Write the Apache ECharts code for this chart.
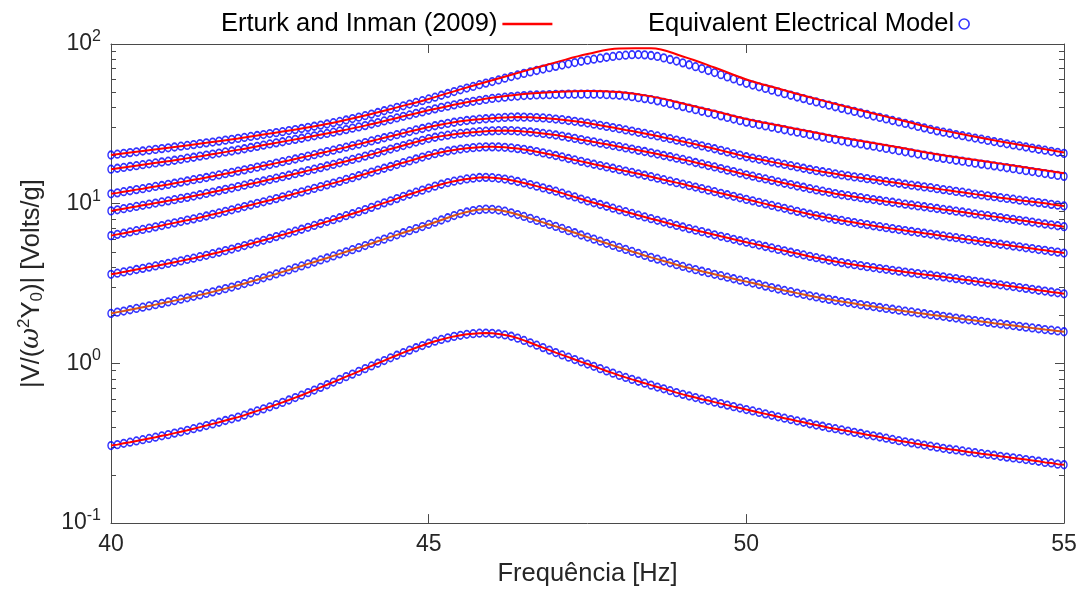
<!DOCTYPE html>
<html>
<head>
<meta charset="utf-8">
<script src="https://cdn.jsdelivr.net/npm/echarts@6/dist/echarts.min.js"></script>
<style>html,body{margin:0;padding:0;background:#fff;}#c{width:1083px;height:592px;}</style>
</head>
<body>
<div id="c"></div>
<script>
// Frequency grid of the markers [Hz]
const freq = [
40,40.1,40.2,40.3,40.4,40.5,40.6,40.7,40.8,40.9,
41,41.1,41.2,41.3,41.4,41.5,41.6,41.7,41.8,41.9,
42,42.1,42.2,42.3,42.4,42.5,42.6,42.7,42.8,42.9,
43,43.1,43.2,43.3,43.4,43.5,43.6,43.7,43.8,43.9,
44,44.1,44.2,44.3,44.4,44.5,44.6,44.7,44.8,44.9,
45,45.1,45.2,45.3,45.4,45.5,45.6,45.7,45.8,45.9,
46,46.1,46.2,46.3,46.4,46.5,46.6,46.7,46.8,46.9,
47,47.1,47.2,47.3,47.4,47.5,47.6,47.7,47.8,47.9,
48,48.1,48.2,48.3,48.4,48.5,48.6,48.7,48.8,48.9,
49,49.1,49.2,49.3,49.4,49.5,49.6,49.7,49.8,49.9,
50,50.1,50.2,50.3,50.4,50.5,50.6,50.7,50.8,50.9,
51,51.1,51.2,51.3,51.4,51.5,51.6,51.7,51.8,51.9,
52,52.1,52.2,52.3,52.4,52.5,52.6,52.7,52.8,52.9,
53,53.1,53.2,53.3,53.4,53.5,53.6,53.7,53.8,53.9,
54,54.1,54.2,54.3,54.4,54.5,54.6,54.7,54.8,54.9,
55];

// Equivalent Electrical Model (markers), curves from top to bottom
const model1 = [
20.18,20.42,20.65,20.89,21.13,21.38,21.63,21.88,22.13,22.39,
22.65,22.91,23.17,23.44,23.77,24.04,24.32,24.66,25.00,25.29,
25.64,26.00,26.36,26.73,27.10,27.48,27.86,28.25,28.71,29.11,
29.58,30.06,30.55,31.05,31.55,32.14,32.73,33.42,34.12,34.83,
35.56,36.39,37.24,38.19,39.08,40.09,41.02,42.07,43.05,44.16,
45.29,46.45,47.75,48.98,50.35,51.64,52.97,54.20,55.59,56.89,
58.21,59.57,61.09,62.52,63.97,65.46,66.83,68.23,69.66,71.12,
72.44,73.79,75.16,76.56,77.98,79.25,80.35,81.47,82.60,83.56,
84.53,85.11,85.70,85.90,85.51,84.72,83.56,81.85,79.98,78.16,
76.21,74.13,72.11,70.15,68.23,66.22,64.27,62.23,60.39,58.48,
56.75,55.34,53.95,52.72,51.40,50.12,48.87,47.75,46.56,45.50,
44.36,43.35,42.36,41.40,40.46,39.54,38.64,37.84,36.98,36.22,
35.40,34.67,33.96,33.19,32.51,31.84,31.19,30.48,29.85,29.17,
28.58,28.05,27.61,27.10,26.67,26.18,25.76,25.35,24.89,24.49,
24.10,23.71,23.33,23.01,22.65,22.28,21.93,21.63,21.28,20.99,
20.65];
const model2 = [
16.44,16.67,16.87,17.10,17.30,17.54,17.78,17.99,18.24,18.45,
18.71,18.97,19.28,19.54,19.86,20.14,20.46,20.75,21.09,21.38,
21.73,22.08,22.49,22.86,23.28,23.66,24.04,24.43,24.89,25.29,
25.70,26.18,26.61,27.10,27.54,28.05,28.58,29.11,29.72,30.27,
30.83,31.55,32.21,32.96,33.65,34.43,35.24,35.97,36.81,37.58,
38.46,39.26,40.09,40.83,41.59,42.36,43.05,43.75,44.36,44.98,
45.60,46.03,46.45,46.88,47.21,47.53,47.75,47.97,48.08,48.19,
48.31,48.42,48.53,48.53,48.53,48.53,48.53,48.42,48.19,47.97,
47.75,47.32,46.77,46.13,45.50,44.87,44.06,43.15,42.27,41.40,
40.55,39.63,38.82,37.93,37.15,36.31,35.48,34.67,33.88,33.11,
32.43,31.84,31.26,30.69,30.13,29.58,29.04,28.51,28.05,27.54,
27.04,26.55,26.12,25.64,25.23,24.77,24.38,23.99,23.66,23.28,
22.91,22.54,22.18,21.83,21.48,21.13,20.80,20.46,20.14,19.82,
19.50,19.23,18.97,18.71,18.45,18.20,17.95,17.70,17.50,17.26,
17.02,16.79,16.56,16.33,16.11,15.89,15.67,15.45,15.24,15.03,
14.83];
const model3 = [
11.53,11.69,11.89,12.05,12.25,12.42,12.62,12.82,13.00,13.21,
13.43,13.65,13.87,14.13,14.35,14.59,14.86,15.14,15.42,15.70,
16.00,16.29,16.60,16.94,17.26,17.58,17.95,18.32,18.66,19.05,
19.45,19.86,20.28,20.75,21.18,21.63,22.13,22.59,23.12,23.60,
24.15,24.72,25.29,25.88,26.42,27.04,27.67,28.31,28.97,29.58,
30.20,30.76,31.33,31.84,32.36,32.81,33.19,33.50,33.81,34.04,
34.28,34.51,34.67,34.83,34.91,34.83,34.75,34.59,34.43,34.20,
33.88,33.57,33.19,32.81,32.43,31.99,31.48,30.97,30.48,29.99,
29.51,28.97,28.51,27.99,27.54,27.04,26.55,26.00,25.53,25.00,
24.55,24.04,23.55,23.01,22.54,22.08,21.58,21.09,20.61,20.14,
19.68,19.32,18.97,18.62,18.28,17.95,17.62,17.30,16.98,16.67,
16.37,16.11,15.85,15.63,15.38,15.14,14.93,14.72,14.55,14.35,
14.16,13.96,13.77,13.61,13.43,13.24,13.06,12.91,12.74,12.59,
12.42,12.25,12.11,11.94,11.80,11.64,11.48,11.35,11.19,11.07,
10.91,10.79,10.67,10.52,10.40,10.28,10.16,10.05,9.908,9.795,
9.683];
const model4 = [
9.016,9.162,9.311,9.462,9.616,9.772,9.931,10.09,10.26,10.42,
10.59,10.79,10.96,11.17,11.38,11.59,11.83,12.05,12.30,12.53,
12.79,13.06,13.34,13.58,13.87,14.16,14.45,14.76,15.07,15.42,
15.74,16.11,16.44,16.83,17.22,17.62,18.03,18.45,18.92,19.36,
19.86,20.37,20.89,21.43,21.98,22.54,23.12,23.71,24.32,24.95,
25.59,26.06,26.49,26.85,27.23,27.54,27.80,28.05,28.25,28.44,
28.58,28.64,28.71,28.64,28.51,28.31,28.12,27.86,27.54,27.23,
26.92,26.49,26.06,25.64,25.18,24.77,24.38,23.93,23.55,23.12,
22.75,22.34,21.98,21.58,21.23,20.84,20.46,20.04,19.68,19.28,
18.92,18.54,18.11,17.74,17.34,16.98,16.60,16.22,15.89,15.52,
15.17,14.86,14.55,14.29,14.00,13.71,13.43,13.18,12.91,12.68,
12.42,12.19,11.97,11.78,11.56,11.38,11.22,11.07,10.91,10.76,
10.62,10.47,10.33,10.21,10.07,9.931,9.817,9.683,9.572,9.441,
9.333,9.204,9.099,8.974,8.872,8.750,8.630,8.511,8.414,8.299,
8.185,8.072,7.980,7.870,7.780,7.674,7.568,7.464,7.379,7.278,
7.178];
const model5 = [
6.310,6.427,6.531,6.653,6.776,6.902,7.031,7.161,7.295,7.447,
7.586,7.727,7.889,8.035,8.204,8.375,8.570,8.750,8.954,9.162,
9.376,9.594,9.817,10.05,10.28,10.52,10.76,11.04,11.30,11.59,
11.86,12.16,12.47,12.79,13.12,13.46,13.80,14.19,14.55,14.96,
15.35,15.78,16.22,16.67,17.10,17.58,18.07,18.54,19.05,19.59,
20.09,20.56,20.99,21.38,21.68,21.98,22.23,22.44,22.59,22.70,
22.70,22.65,22.54,22.34,22.13,21.88,21.53,21.18,20.80,20.42,
20.04,19.63,19.19,18.79,18.41,18.03,17.66,17.34,16.98,16.67,
16.33,16.00,15.70,15.38,15.07,14.76,14.45,14.13,13.84,13.55,
13.27,12.97,12.71,12.42,12.16,11.89,11.61,11.38,11.12,10.89,
10.64,10.42,10.19,9.977,9.750,9.550,9.354,9.141,8.954,8.770,
8.590,8.433,8.279,8.128,7.980,7.852,7.727,7.621,7.499,7.396,
7.278,7.178,7.079,6.982,6.887,6.792,6.699,6.622,6.531,6.457,
6.368,6.281,6.194,6.124,6.039,5.957,5.875,5.794,5.728,5.649,
5.572,5.508,5.433,5.370,5.297,5.236,5.164,5.105,5.035,4.977,
4.909];
const model6 = [
3.614,3.673,3.741,3.802,3.873,3.936,4.009,4.074,4.150,4.227,
4.305,4.385,4.477,4.560,4.656,4.753,4.864,4.966,5.082,5.200,
5.333,5.470,5.610,5.754,5.902,6.053,6.223,6.383,6.561,6.730,
6.918,7.112,7.311,7.516,7.727,7.943,8.166,8.414,8.650,8.913,
9.183,9.484,9.795,10.12,10.42,10.76,11.12,11.46,11.80,12.16,
12.53,12.88,13.24,13.55,13.84,14.06,14.29,14.45,14.59,14.62,
14.55,14.42,14.26,14.03,13.77,13.49,13.18,12.88,12.56,12.27,
11.97,11.64,11.32,11.02,10.69,10.40,10.14,9.886,9.638,9.376,
9.141,8.913,8.690,8.472,8.260,8.054,7.870,7.674,7.499,7.311,
7.145,6.982,6.823,6.683,6.531,6.383,6.252,6.124,5.984,5.861,
5.741,5.623,5.508,5.395,5.284,5.176,5.070,4.966,4.875,4.775,
4.677,4.592,4.508,4.426,4.345,4.276,4.207,4.150,4.093,4.036,
3.981,3.926,3.882,3.828,3.784,3.733,3.690,3.648,3.606,3.565,
3.524,3.483,3.436,3.396,3.350,3.311,3.266,3.228,3.184,3.148,
3.105,3.062,3.027,2.985,2.951,2.911,2.871,2.838,2.799,2.767,
2.729];
const model7 = [
2.056,2.094,2.128,2.168,2.208,2.249,2.291,2.333,2.377,2.427,
2.472,2.523,2.576,2.630,2.685,2.742,2.805,2.871,2.938,3.006,
3.083,3.162,3.251,3.342,3.436,3.532,3.631,3.741,3.846,3.963,
4.074,4.198,4.315,4.446,4.571,4.710,4.853,5.000,5.152,5.309,
5.470,5.636,5.821,5.998,6.194,6.383,6.577,6.776,6.982,7.194,
7.413,7.656,7.907,8.166,8.433,8.670,8.872,9.057,9.183,9.247,
9.226,9.120,8.974,8.770,8.551,8.318,8.091,7.852,7.638,7.413,
7.211,6.998,6.776,6.577,6.368,6.180,5.998,5.821,5.649,5.483,
5.321,5.176,5.023,4.887,4.742,4.613,4.498,4.375,4.266,4.150,
4.046,3.954,3.864,3.776,3.698,3.614,3.540,3.467,3.388,3.319,
3.251,3.184,3.119,3.048,2.985,2.924,2.864,2.812,2.754,2.704,
2.649,2.606,2.559,2.518,2.477,2.438,2.404,2.371,2.333,2.301,
2.270,2.239,2.208,2.183,2.153,2.123,2.099,2.070,2.046,2.018,
1.995,1.972,1.945,1.923,1.897,1.875,1.854,1.832,1.807,1.786,
1.766,1.746,1.726,1.706,1.687,1.667,1.648,1.629,1.614,1.596,
1.578];
const model8 = [
0.306,0.310,0.316,0.321,0.327,0.333,0.339,0.345,0.352,0.358,
0.366,0.373,0.381,0.390,0.399,0.408,0.418,0.428,0.439,0.450,
0.461,0.474,0.489,0.504,0.519,0.535,0.552,0.570,0.590,0.611,
0.632,0.656,0.681,0.708,0.735,0.764,0.794,0.826,0.857,0.891,
0.927,0.964,1.002,1.042,1.084,1.125,1.167,1.211,1.253,1.294,
1.337,1.377,1.413,1.445,1.476,1.500,1.521,1.535,1.545,1.549,
1.542,1.528,1.507,1.479,1.439,1.393,1.346,1.300,1.256,1.211,
1.169,1.130,1.094,1.057,1.023,0.991,0.959,0.927,0.897,0.869,
0.841,0.817,0.794,0.773,0.752,0.731,0.711,0.693,0.675,0.656,
0.640,0.625,0.611,0.597,0.585,0.572,0.560,0.548,0.536,0.525,
0.514,0.504,0.493,0.483,0.473,0.463,0.454,0.445,0.436,0.428,
0.419,0.411,0.404,0.396,0.390,0.383,0.377,0.370,0.364,0.357,
0.352,0.346,0.340,0.334,0.328,0.323,0.318,0.313,0.308,0.303,
0.299,0.294,0.290,0.287,0.283,0.279,0.276,0.272,0.269,0.266,
0.262,0.259,0.256,0.253,0.250,0.247,0.244,0.240,0.238,0.234,
0.232];

// Erturk and Inman (2009): the two upper curves differ visibly from the markers
const lineFreq = [40,40.5,41,41.5,42,42.5,43,43.5,44,44.5,45,45.5,46,46.5,47,47.5,48,48.5,49,49.5,50,50.5,51,51.5,52,52.5,53,53.5,54,54.5,55];
const erturk1 = [20.18,21.38,22.65,24.04,25.64,27.48,29.58,32.14,35.65,40.09,45.29,52.00,59.29,67.61,76.74,86.50,93.76,93.97,83.56,71.29,59.98,52.60,46.45,41.21,36.73,32.81,29.31,26.73,24.55,22.65,20.94];
const erturk2 = [16.44,17.54,18.71,20.14,21.73,23.66,25.70,28.05,30.83,34.43,38.46,42.46,46.03,48.64,50.12,50.82,50.00,46.99,42.46,38.02,33.96,30.97,28.31,25.94,23.99,22.13,20.42,19.05,17.82,16.63,15.52];

const majorTicks = [0.1, 1, 10, 100];
const minorTicks = [0.2,0.3,0.4,0.5,0.6,0.7,0.8,0.9,2,3,4,5,6,7,8,9,20,30,40,50,60,70,80,90];

const LINE_NAME = 'Erturk and Inman (2009)';
const MARK_NAME = 'Equivalent Electrical Model';
const FONT = "'Liberation Sans', Arial, Helvetica, sans-serif";
const AX = '#4a4a4a';
const TXT = '#262626';

function pairs(xs, ys) { return xs.map((x, i) => [x, ys[i]]); }

const models = [model1, model2, model3, model4, model5, model6, model7, model8];
const series = [];
const lineData = [pairs(lineFreq, erturk1), pairs(lineFreq, erturk2)];
for (let k = 2; k < 8; k++) lineData.push(pairs(freq, models[k]));
lineData.forEach((d, k) => {
  series.push({
    type: 'line', name: LINE_NAME, data: d, symbol: 'none', smooth: k < 2 ? 0.4 : false,
    lineStyle: { color: k === 6 ? '#d95319' : '#ff0000', width: 2 },
    itemStyle: { color: '#ff0000' }, z: 5, silent: true
  });
});
models.forEach((m) => {
  series.push({
    type: 'scatter', name: MARK_NAME, data: pairs(freq, m), symbol: 'circle', symbolSize: [6, 7.5],
    itemStyle: { color: 'rgba(0,0,0,0)', borderColor: '#0000ff', borderWidth: 1.6 }, z: 3, silent: true
  });
});

function yLabel(v) {
  const e = Math.round(Math.log10(v));
  return '{b|10}{e|' + e + '}';
}

const yCommon = { type: 'log', logBase: 10, min: 0.1, max: 100, splitLine: { show: false } };

const option = {
  animation: false,
  backgroundColor: '#fff',
  grid: { left: 111, right: 19, top: 44, bottom: 62, containLabel: false },
  legend: [
    { data: [{ name: LINE_NAME, icon: 'rect', itemStyle: { color: '#ff0000' } }], left: 216, top: 6, align: 'right',
      itemWidth: 50, itemHeight: 2.5, selectedMode: false,
      textStyle: { fontSize: 25.5, fontFamily: FONT, color: '#000' } },
    { data: [{ name: MARK_NAME, icon: 'circle' }], left: 643, top: 6, align: 'right', itemWidth: 10, itemHeight: 11, selectedMode: false,
      itemStyle: { color: 'rgba(0,0,0,0)', borderColor: '#0000ff', borderWidth: 1.6 },
      textStyle: { fontSize: 25.5, fontFamily: FONT, color: '#000' } }
  ],
  xAxis: [
    { type: 'value', min: 40, max: 55, interval: 5, position: 'bottom',
      axisLine: { show: true, lineStyle: { color: AX, width: 1 } },
      axisTick: { show: true, inside: true, length: 9, lineStyle: { color: AX } },
      axisLabel: { fontSize: 23, fontFamily: FONT, color: TXT, margin: 10 },
      splitLine: { show: false },
      name: 'Frequência [Hz]', nameLocation: 'middle', nameGap: 34,
      nameTextStyle: { fontSize: 25.5, fontFamily: FONT, color: TXT } },
    { type: 'value', min: 40, max: 55, interval: 5, position: 'top',
      axisLine: { show: true, lineStyle: { color: AX, width: 1 } },
      axisTick: { show: true, inside: true, length: 9, lineStyle: { color: AX } },
      axisLabel: { show: false }, splitLine: { show: false } }
  ],
  yAxis: [
    Object.assign({}, yCommon, { position: 'left',
      axisLine: { show: true, lineStyle: { color: AX, width: 1 } },
      axisTick: { show: true, inside: true, length: 9, customValues: majorTicks, lineStyle: { color: AX } },
      axisLabel: { customValues: majorTicks, formatter: yLabel, margin: 10, color: TXT,
        rich: { b: { fontSize: 23, fontFamily: FONT, color: TXT },
                e: { fontSize: 16, fontFamily: FONT, color: TXT, padding: [0, 0, 15, 0] } } },
      name: '{t|\u007cV/(}{w|ω}{sup|2}{t|Y}{sub|0}{t|)\u007c [Volts/g]}',
      nameLocation: 'middle', nameGap: 64, nameRotate: 90,
      nameTextStyle: { rich: {
        t: { fontSize: 25.5, fontFamily: FONT, color: TXT },
        w: { fontSize: 25.5, fontFamily: "'DejaVu Serif', serif", fontStyle: 'italic', color: TXT },
        sup: { fontSize: 17, fontFamily: FONT, color: TXT, padding: [0, 0, 14, 0] },
        sub: { fontSize: 17, fontFamily: FONT, color: TXT, padding: [12, 0, 0, 0] } } } }),
    Object.assign({}, yCommon, { position: 'left',
      axisLine: { show: false },
      axisTick: { show: true, inside: true, length: 5, customValues: minorTicks, lineStyle: { color: AX } },
      axisLabel: { show: false } }),
    Object.assign({}, yCommon, { position: 'right',
      axisLine: { show: true, lineStyle: { color: AX, width: 1 } },
      axisTick: { show: true, inside: true, length: 9, customValues: majorTicks, lineStyle: { color: AX } },
      axisLabel: { show: false } }),
    Object.assign({}, yCommon, { position: 'right',
      axisLine: { show: false },
      axisTick: { show: true, inside: true, length: 5, customValues: minorTicks, lineStyle: { color: AX } },
      axisLabel: { show: false } })
  ],
  series: series
};

const chart = echarts.init(document.getElementById('c'), null, { renderer: 'canvas' });
chart.setOption(option);
</script>
</body>
</html>
